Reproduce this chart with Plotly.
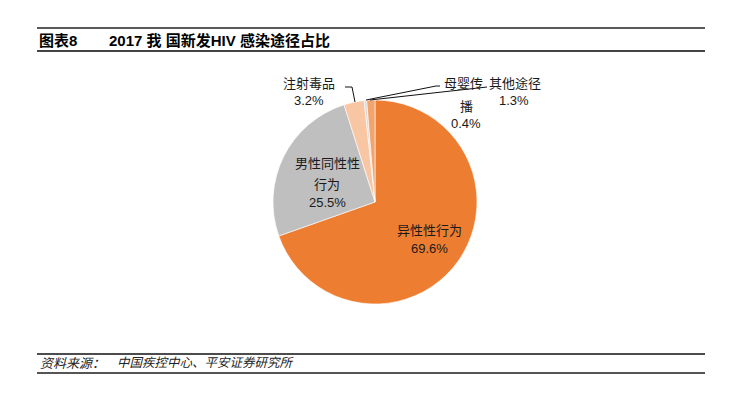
import plotly.graph_objects as go

W, H = 755, 399

categories = ["异性性行为", "男性同性性行为", "注射毒品", "母婴传播", "其他途径"]
values = [69.6, 25.5, 3.2, 0.4, 1.3]
colors = ["#ED7D31", "#BFBFBF", "#F8C6A3", "#D9D9D9", "#F3A36C"]

title_no = "图表8"
title_text = "2017 我 国新发HIV 感染途径占比"
source_label = "资料来源："
source_text = "中国疾控中心、平安证券研究所"

FONT = "Liberation Sans, Arial, Noto Sans CJK SC, sans-serif"


def px(x):
    return x / W


def py(y):
    return 1 - y / H


cx, cy, r = 375, 202, 102

fig = go.Figure()
fig.add_trace(go.Pie(
    labels=categories,
    values=values,
    sort=False,
    direction="clockwise",
    rotation=0,
    marker=dict(colors=colors, line=dict(color="white", width=0.6)),
    textinfo="none",
    hoverinfo="label+percent",
    showlegend=False,
    domain=dict(x=[px(cx - r), px(cx + r)], y=[py(cy + r), py(cy - r)]),
))


def pct(i):
    return f"{values[i]:.1f}%"


annotations = []
lab = [
    (429, 230, categories[0]), (429, 248, pct(0)),
    (327, 163, "男性同性性"), (327, 185, "行为"), (327, 202, pct(1)),
    (309, 83, categories[2]), (309, 101, pct(2)),
    (463, 83, "母婴传"), (466, 106, "播"), (466, 123, pct(3)),
    (515, 83, categories[4]), (514, 101, pct(4)),
]
for x, y, t in lab:
    annotations.append(dict(
        x=px(x), y=py(y), xref="paper", yref="paper", text=t, showarrow=False,
        xanchor="center", yanchor="middle",
        font=dict(family=FONT, size=13, color="#1a1a1a"),
    ))

annotations += [
    dict(x=px(37), y=py(41), xref="paper", yref="paper", text="<b>" + title_no + "</b>",
         showarrow=False, xanchor="left", yanchor="middle",
         font=dict(family=FONT, size=15, color="#000")),
    dict(x=px(107), y=py(41), xref="paper", yref="paper", text="<b>" + title_text + "</b>",
         showarrow=False, xanchor="left", yanchor="middle",
         font=dict(family=FONT, size=15, color="#000")),
    dict(x=px(38), y=py(363), xref="paper", yref="paper", text="<i>" + source_label + "</i>",
         showarrow=False, xanchor="left", yanchor="middle",
         font=dict(family=FONT, size=13, color="#222")),
    dict(x=px(115), y=py(363), xref="paper", yref="paper", text="<i>" + source_text + "</i>",
         showarrow=False, xanchor="left", yanchor="middle",
         font=dict(family=FONT, size=12.5, color="#222")),
]

shapes = []


def hline(y, color, width):
    shapes.append(dict(type="line", xref="paper", yref="paper",
                       x0=px(37), x1=px(705), y0=py(y), y1=py(y),
                       line=dict(color=color, width=width)))


hline(28, "#222", 1.5)
hline(51, "#444", 2)
hline(354, "#111", 1.5)
hline(373, "#555", 2)


def path(points):
    d = "M " + " L ".join(f"{px(x)} {py(y)}" for x, y in points)
    shapes.append(dict(type="path", xref="paper", yref="paper", path=d,
                       line=dict(color="#111", width=1)))


path([(345, 87), (352, 87), (355, 102)])
path([(440, 86), (436, 86), (366, 100)])
path([(487, 87), (370, 100)])

fig.update_layout(
    width=W, height=H,
    margin=dict(l=0, r=0, t=0, b=0),
    paper_bgcolor="white", plot_bgcolor="white",
    annotations=annotations, shapes=shapes,
)

fig.write_html("out.html", config={"displayModeBar": False})

with open("out.html", "r", encoding="utf-8") as f:
    html = f.read()
html = html.replace("<head>", "<head><style>html,body{margin:0;padding:0;overflow:hidden;}</style>", 1)
with open("out.html", "w", encoding="utf-8") as f:
    f.write(html)
